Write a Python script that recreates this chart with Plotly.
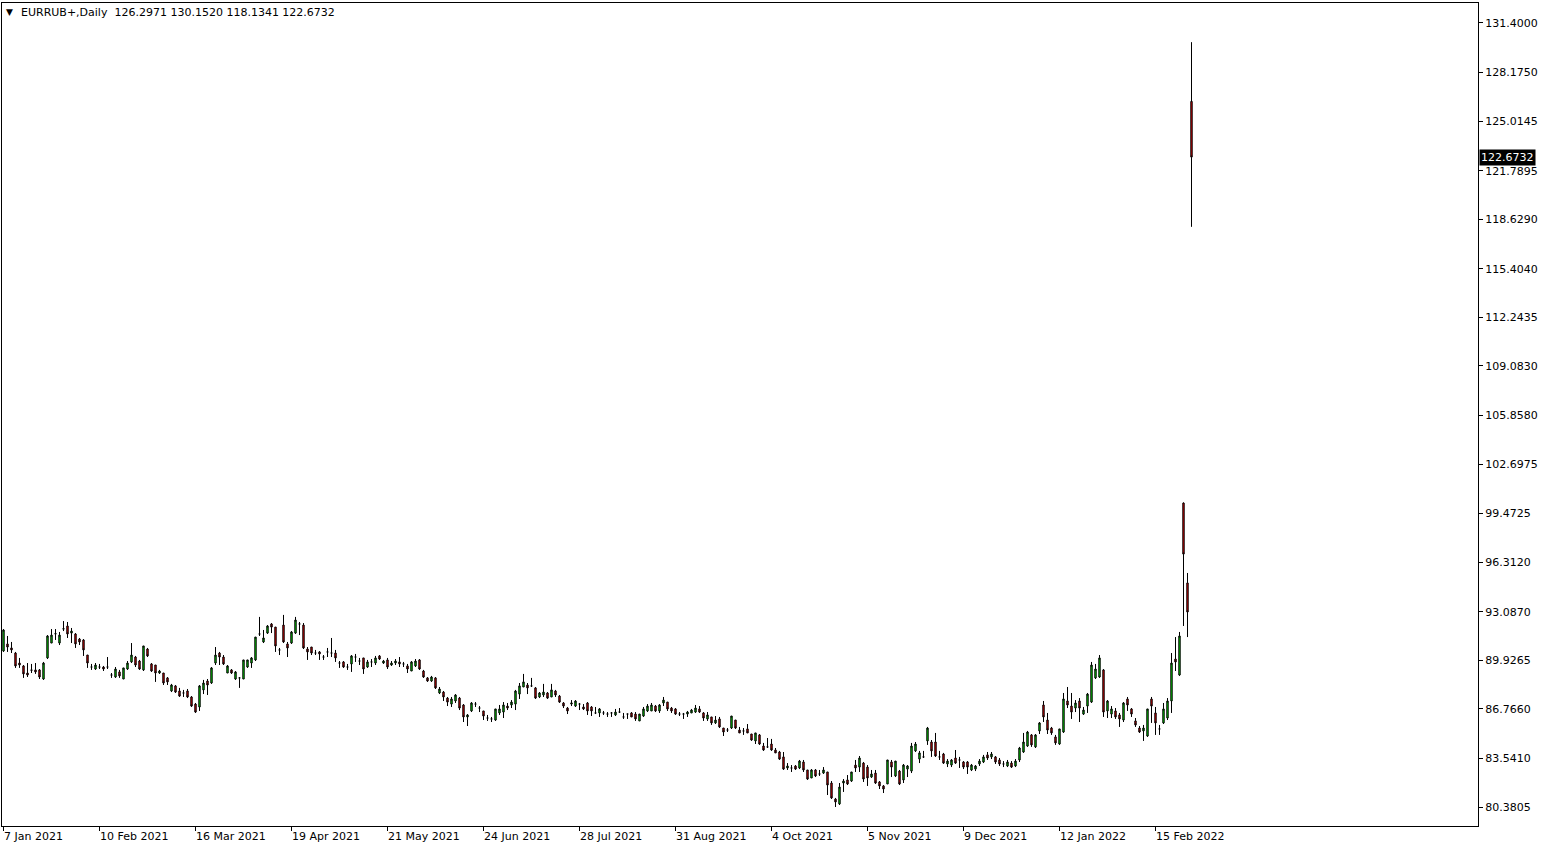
import pandas as pd
import plotly.graph_objects as go

symbol_title = "EURRUB+,Daily"
last_ohlc = ["126.2971", "130.1520", "118.1341", "122.6732"]

# trading days (weekdays) 7 Jan 2021 .. 28 Feb 2022
dates = [d.strftime("%Y-%m-%d") for d in pd.bdate_range("2021-01-07", "2022-02-28")]

open_ = [
90.53,90.99,90.73,90.40,89.75,89.56,89.10,89.30,89.30,89.30,
88.71,90.08,91.05,91.64,91.05,91.96,92.16,91.70,91.64,91.31,
91.25,90.27,89.49,89.36,89.49,89.49,89.49,88.97,88.84,89.17,
88.71,89.36,89.82,90.14,89.88,89.30,90.66,89.69,89.62,89.10,
89.10,88.78,87.93,88.26,87.93,87.80,87.93,87.54,87.08,86.89,
88.00,88.58,88.45,89.75,90.40,90.14,89.10,89.30,88.71,88.78,
88.71,89.49,89.75,89.95,91.64,91.12,91.70,92.29,92.09,90.60,
92.22,90.99,91.05,91.70,92.29,92.22,90.66,90.79,90.40,90.47,
90.14,90.47,90.40,90.40,89.75,89.82,89.49,89.69,90.14,89.88,
90.08,89.49,89.82,89.75,90.21,89.75,89.95,89.62,89.75,89.82,
89.69,89.56,89.23,89.56,89.95,89.23,88.78,88.58,88.78,87.80,
87.86,87.47,87.08,87.28,87.47,87.02,86.24,86.63,87.08,86.82,
86.63,86.17,86.11,86.04,86.50,86.56,86.95,87.02,87.08,87.73,
88.19,88.32,88.26,88.13,87.54,87.67,87.80,87.54,87.93,87.60,
87.15,86.82,87.08,86.95,87.08,86.89,87.15,86.89,86.50,86.50,
86.50,86.43,86.50,86.37,86.56,86.24,86.43,86.50,86.43,85.98,
86.30,86.63,86.63,86.95,86.63,87.15,87.21,86.82,86.76,86.43,
86.43,86.43,86.50,86.56,86.76,86.50,86.11,86.24,85.85,86.11,
85.52,85.39,85.52,86.04,85.39,85.33,85.46,85.13,84.68,85.07,
84.35,84.29,84.48,84.09,83.96,83.64,82.92,82.92,83.05,82.92,
83.31,82.79,82.27,82.79,82.53,82.59,82.66,81.94,80.90,80.58,
81.94,82.14,82.07,83.11,82.98,83.24,82.98,82.33,82.59,82.01,
81.75,81.88,83.31,82.40,82.72,82.14,82.85,82.72,84.03,83.50,
83.64,84.68,84.61,84.61,83.64,83.83,83.18,83.11,83.57,83.44,
83.31,83.31,82.79,82.85,83.18,83.31,83.77,83.64,83.64,83.44,
83.18,83.05,83.24,83.05,83.44,83.96,84.35,85.07,84.29,85.33,
87.02,86.04,85.52,84.94,84.48,85.26,87.28,86.95,86.82,87.28,
86.43,86.95,87.21,88.78,88.84,89.30,86.63,86.43,86.63,86.37,
86.04,87.41,86.76,85.98,85.52,85.33,85.00,87.41,86.50,85.46,
85.85,86.17,87.28,90.01,88.97,100.16,94.96,126.2971,
]

high = [
91.96,91.51,91.12,90.47,90.08,89.62,89.75,89.69,89.75,89.36,
89.82,91.57,91.96,91.96,91.77,92.48,92.42,92.03,91.70,91.38,
91.31,90.27,89.69,89.75,89.69,89.56,90.14,89.10,89.49,89.30,
89.43,89.88,91.05,90.21,89.95,90.86,90.73,89.75,89.62,89.30,
89.10,88.84,88.39,88.32,88.13,88.00,88.06,87.60,87.15,88.32,
88.65,88.71,89.49,90.79,90.47,90.27,89.62,89.36,89.23,88.84,
89.95,89.95,90.14,91.44,92.75,91.90,92.22,92.35,92.09,90.73,
92.88,91.12,91.83,92.75,92.42,92.35,90.79,90.79,90.60,90.53,
90.27,90.73,91.38,90.60,89.88,89.88,89.69,90.27,90.34,90.08,
90.08,89.95,90.01,90.21,90.27,89.95,90.08,89.88,90.01,90.14,
89.82,89.69,89.88,90.01,90.01,89.30,88.84,88.91,88.84,88.19,
87.93,87.54,87.54,87.73,87.54,87.08,86.43,87.21,87.21,86.95,
86.63,86.37,86.24,86.76,87.02,87.21,87.15,87.34,88.00,88.45,
89.04,88.45,88.78,88.19,87.86,88.39,87.86,88.39,88.00,87.67,
87.21,86.89,87.34,87.34,87.15,87.08,87.21,86.95,86.89,86.82,
86.63,86.56,86.56,86.76,86.82,86.50,86.43,86.56,86.56,86.43,
86.89,87.08,87.15,87.02,87.08,87.54,87.21,86.89,86.82,86.56,
86.50,86.63,86.76,87.02,86.95,86.56,86.56,86.24,86.30,86.24,
85.52,85.52,86.30,86.04,85.59,85.52,85.78,85.13,85.20,85.13,
84.55,84.87,84.81,84.22,84.03,83.96,83.24,83.11,83.11,83.44,
83.44,82.79,82.85,82.85,82.79,82.98,82.66,82.07,80.97,81.94,
82.20,82.46,82.66,83.44,83.70,83.31,83.11,82.79,82.79,82.07,
81.81,83.44,83.44,83.37,82.79,83.18,83.11,84.55,84.61,84.03,
84.03,85.59,84.74,85.20,84.03,83.90,83.50,83.50,84.09,83.64,
83.37,83.37,83.18,83.11,83.50,83.77,83.96,83.96,83.70,83.57,
83.37,83.44,83.37,83.50,84.29,85.20,85.33,85.13,85.13,85.91,
87.28,86.50,85.59,85.07,85.46,87.80,88.19,87.80,87.34,87.47,
86.89,87.80,89.82,89.69,90.27,89.36,87.34,86.95,86.82,86.50,
87.21,87.54,86.82,86.17,85.65,85.72,86.76,87.54,86.89,85.72,
87.15,87.47,90.40,91.44,91.77,100.20,95.61,130.1520,
]

low = [
90.47,90.47,90.40,89.43,89.43,88.78,88.84,89.10,89.04,88.71,
88.65,90.01,91.05,91.25,90.92,91.83,91.38,91.05,90.73,90.92,
90.21,89.43,89.30,89.30,89.36,89.23,89.36,88.78,88.78,88.78,
88.71,89.30,89.75,89.49,89.30,89.23,90.14,89.17,88.52,89.04,
88.32,88.32,87.86,87.80,87.54,87.54,87.47,86.89,86.50,86.63,
87.73,87.67,88.39,89.62,89.62,89.62,89.10,89.04,88.65,88.13,
88.71,89.43,89.43,89.88,91.51,91.05,91.64,91.70,90.47,90.27,
91.05,90.14,90.99,91.64,91.57,90.66,89.95,90.27,90.27,89.95,
89.95,90.14,90.14,89.82,89.43,89.43,89.30,89.17,89.82,89.62,
89.04,89.43,89.49,89.62,89.95,89.69,89.36,89.56,89.62,89.49,
89.49,89.10,89.23,89.49,89.30,88.78,88.52,88.52,88.06,87.73,
87.28,86.95,86.89,87.15,86.69,85.91,85.65,86.56,86.89,86.56,
86.04,85.98,85.91,85.98,86.37,86.17,86.69,86.82,86.69,87.41,
88.19,87.73,88.19,87.41,87.47,87.54,87.41,87.54,87.54,87.15,
86.82,86.43,86.95,86.89,86.69,86.69,86.37,86.30,86.43,86.24,
86.37,86.24,86.24,86.30,86.50,86.11,86.11,86.24,85.98,85.98,
86.24,86.56,86.63,86.56,86.50,86.95,86.63,86.50,86.37,86.30,
86.11,86.24,86.50,86.50,86.50,85.98,85.98,85.72,85.78,85.52,
85.00,85.26,85.46,85.46,85.20,85.07,85.20,84.68,84.48,84.42,
84.03,84.22,84.03,83.90,83.44,82.79,82.79,82.66,82.79,82.85,
82.66,82.14,82.27,82.33,82.40,82.53,81.16,80.90,80.38,80.51,
81.36,81.81,82.01,82.66,82.66,82.01,81.75,82.27,81.88,81.55,
81.29,81.88,82.33,82.33,81.81,81.94,82.33,82.59,83.96,83.24,
83.57,84.42,83.64,83.64,83.44,83.18,82.98,82.98,83.18,82.92,
82.85,82.53,82.72,82.72,83.05,83.24,83.44,83.50,83.18,83.05,
82.98,82.98,82.92,82.98,83.31,83.90,84.29,84.29,84.22,85.13,
85.91,85.13,85.07,84.42,84.42,85.20,86.82,86.11,86.56,85.91,
86.37,86.50,87.15,88.71,88.78,86.24,86.17,86.17,86.11,85.59,
85.91,86.63,86.24,85.59,85.20,84.68,84.94,85.85,85.07,85.07,
85.78,86.04,86.50,89.23,88.91,92.16,91.44,118.1341,
]

close = [
91.90,90.79,90.60,89.56,89.62,89.04,88.97,89.28,89.17,88.84,
89.75,91.51,91.57,91.66,91.57,91.98,91.64,91.83,90.99,91.12,
90.60,89.75,89.49,89.62,89.49,89.36,89.49,88.97,89.36,88.91,
89.43,89.75,90.27,89.62,89.36,90.86,90.21,89.23,89.10,89.23,
88.45,88.52,88.32,87.86,87.60,87.80,87.54,86.95,86.56,88.26,
88.45,88.32,89.43,90.27,90.14,89.69,89.56,89.10,89.17,88.78,
89.95,89.95,90.08,91.44,91.64,91.38,92.16,92.09,90.86,90.60,
91.12,90.73,91.77,92.55,92.29,90.73,90.47,90.40,90.40,90.34,
90.14,90.47,90.40,90.08,89.75,89.49,89.49,90.21,90.14,89.88,
89.36,89.82,89.82,90.08,90.01,89.88,89.49,89.75,89.88,89.69,
89.69,89.36,89.82,89.88,89.36,88.84,88.58,88.84,88.13,88.06,
87.54,87.21,87.41,87.67,86.82,86.24,86.37,87.15,87.08,86.82,
86.30,86.17,86.11,86.76,86.76,87.02,86.82,87.21,87.93,88.26,
88.52,88.13,88.26,87.47,87.80,87.86,87.47,88.00,87.67,87.21,
86.95,86.63,87.15,87.28,87.08,86.76,86.63,86.63,86.50,86.76,
86.50,86.43,86.50,86.56,86.56,86.24,86.43,86.24,86.11,86.43,
86.76,86.95,87.02,86.63,87.02,87.34,86.76,86.63,86.43,86.43,
86.43,86.56,86.69,86.82,86.56,86.17,86.37,85.85,86.04,85.59,
85.26,85.39,86.30,85.52,85.20,85.33,85.20,84.74,85.20,84.48,
84.09,84.29,84.09,83.90,83.50,82.85,83.05,82.92,82.85,83.37,
82.79,82.20,82.79,82.40,82.53,82.79,81.81,80.97,80.71,81.68,
82.07,81.88,82.66,82.92,83.57,82.20,82.27,82.53,81.94,81.75,
81.55,83.44,82.98,83.37,81.88,83.11,83.05,84.35,84.48,83.90,
83.64,85.52,84.03,83.70,83.64,83.24,83.37,83.44,83.24,83.44,
82.98,82.98,83.11,83.05,83.37,83.64,83.57,83.83,83.31,83.18,
83.18,83.31,82.98,83.37,84.22,84.61,85.26,84.42,85.07,85.85,
86.24,85.39,85.20,84.55,85.46,87.41,87.02,86.56,87.15,86.82,
86.69,87.73,89.62,89.36,90.08,86.56,87.28,86.76,86.24,86.11,
87.15,87.02,86.43,85.72,85.26,85.52,86.76,86.95,85.85,85.46,
86.76,87.28,89.75,89.82,91.51,96.84,93.07,122.6732,
]

y_ticks = [80.3805, 83.5410, 86.7660, 89.9265, 93.0870, 96.3120, 99.4725,
           102.6975, 105.8580, 109.0830, 112.2435, 115.4040, 118.6290,
           121.7895, 125.0145, 128.1750, 131.4000]

x_tick_dates = ["2021-01-07", "2021-02-10", "2021-03-16", "2021-04-19",
                "2021-05-21", "2021-06-24", "2021-07-28", "2021-08-31",
                "2021-10-04", "2021-11-05", "2021-12-09", "2022-01-12",
                "2022-02-15"]
x_tick_labels = ["7 Jan 2021", "10 Feb 2021", "16 Mar 2021", "19 Apr 2021",
                 "21 May 2021", "24 Jun 2021", "28 Jul 2021", "31 Aug 2021",
                 "4 Oct 2021", "5 Nov 2021", "9 Dec 2021", "12 Jan 2022",
                 "15 Feb 2022"]

FONT = "DejaVu Sans, Verdana, sans-serif"
FS = 11

fig = go.Figure()
fig.add_trace(go.Candlestick(
    x=dates, open=open_, high=high, low=low, close=close,
    increasing=dict(line=dict(color="black", width=1), fillcolor="#00FF00"),
    decreasing=dict(line=dict(color="black", width=1), fillcolor="#FF0000"),
    whiskerwidth=0, showlegend=False, hoverinfo="skip",
))

ann = []
for d, lab in zip(x_tick_dates, x_tick_labels):
    ann.append(dict(x=d, xref="x", y=0, yref="paper", text=lab, showarrow=False,
                    xanchor="left", yanchor="top", xshift=-2, yshift=-2,
                    font=dict(family=FONT, size=FS, color="black")))
# header
ann.append(dict(x=0, xref="paper", y=1, yref="paper", text="▼", showarrow=False,
                xanchor="left", yanchor="middle", xshift=2, yshift=-9,
                font=dict(family="DejaVu Sans", size=9, color="black")))
ann.append(dict(x=0, xref="paper", y=1, yref="paper",
                text=symbol_title + "  " + " ".join(last_ohlc), showarrow=False,
                xanchor="left", yanchor="middle", xshift=17, yshift=-9,
                font=dict(family=FONT, size=FS, color="black")))
# last price tag
ann.append(dict(x=1, xref="paper", y=close[-1], yref="y", text=last_ohlc[3],
                showarrow=False, xanchor="left", yanchor="middle", xshift=1,
                bgcolor="black", borderpad=1,
                font=dict(family=FONT, size=FS, color="white")))

fig.update_layout(
    width=1550, height=850,
    margin=dict(l=2, r=72, t=3, b=24, pad=0),
    paper_bgcolor="white", plot_bgcolor="white",
    boxgap=0.5,
    annotations=ann,
    xaxis=dict(type="category", range=[-0.375, 368.625], showgrid=False,
               rangeslider=dict(visible=False), tickmode="array",
               tickvals=x_tick_dates, showticklabels=False,
               ticks="outside", ticklen=4, tickcolor="black",
               showline=True, linecolor="black", linewidth=1, mirror=True,
               zeroline=False),
    yaxis=dict(side="right", range=[79.144, 132.70], showgrid=False,
               zeroline=False, tickmode="array", tickvals=y_ticks,
               ticktext=[f"{v:.4f}" for v in y_ticks],
               ticks="outside", ticklen=4, tickcolor="black",
               showline=True, linecolor="black", linewidth=1, mirror=True,
               automargin=False,
               tickfont=dict(family=FONT, size=FS, color="black")),
)

fig.write_html("out.html",
               config={"displayModeBar": False},
               post_script="document.body.style.margin='0';document.body.style.overflow='hidden';")
